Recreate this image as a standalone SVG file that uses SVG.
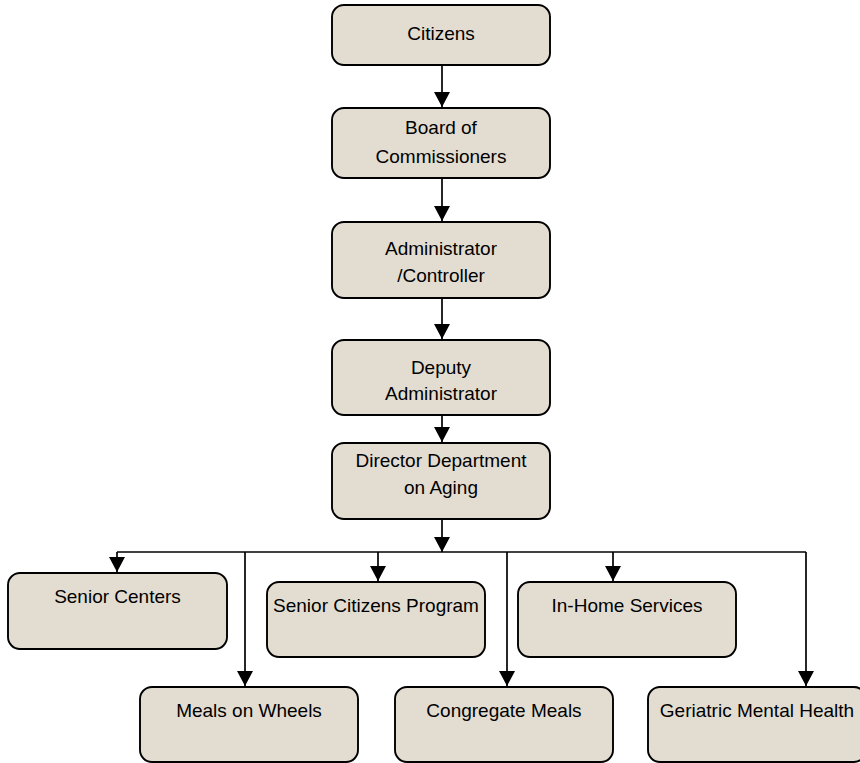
<svg xmlns="http://www.w3.org/2000/svg" width="860" height="763" viewBox="0 0 860 763">
<style>
.box{fill:#e3ddd1;stroke:#000;stroke-width:1.9}
.t{font-family:"Liberation Sans",Arial,sans-serif;font-size:19px;fill:#000;text-anchor:middle}
.c{fill:none;stroke:#000;stroke-width:1.7}
</style>
<defs>
<marker id="ah" markerUnits="userSpaceOnUse" markerWidth="16" markerHeight="16" refX="15" refY="8" orient="auto">
<path d="M0,0 L15,8 L0,16 Z" fill="#000"/>
</marker>
</defs>
<rect width="860" height="763" fill="#fff"/>
<g id="connectors">
<path class="c" d="M442,65 V107" marker-end="url(#ah)"/>
<path class="c" d="M442,178 V221" marker-end="url(#ah)"/>
<path class="c" d="M442,298 V339" marker-end="url(#ah)"/>
<path class="c" d="M442,415 V442" marker-end="url(#ah)"/>
<path class="c" d="M442,519 V552" marker-end="url(#ah)"/>
<path class="c" d="M117,552 H806"/>
<path class="c" d="M117,552 V572" marker-end="url(#ah)"/>
<path class="c" d="M245,552 V686" marker-end="url(#ah)"/>
<path class="c" d="M378,552 V581" marker-end="url(#ah)"/>
<path class="c" d="M507,552 V686" marker-end="url(#ah)"/>
<path class="c" d="M613,552 V581" marker-end="url(#ah)"/>
<path class="c" d="M806,552 V686" marker-end="url(#ah)"/>
</g>
<g id="citizens"><rect class="box" x="332" y="5" width="218" height="60" rx="12"/><text class="t" x="441" y="40">Citizens</text></g>
<g id="board"><rect class="box" x="332" y="108" width="218" height="70" rx="12"/><text class="t" x="441" y="134">Board of</text><text class="t" x="441" y="163">Commissioners</text></g>
<g id="administrator"><rect class="box" x="332" y="222" width="218" height="76" rx="12"/><text class="t" x="441" y="255">Administrator</text><text class="t" x="441" y="282">/Controller</text></g>
<g id="deputy"><rect class="box" x="332" y="340" width="218" height="75" rx="12"/><text class="t" x="441" y="374">Deputy</text><text class="t" x="441" y="400">Administrator</text></g>
<g id="director"><rect class="box" x="332" y="443" width="218" height="76" rx="12"/><text class="t" x="441" y="467">Director Department</text><text class="t" x="441" y="494">on Aging</text></g>
<g id="senior-centers"><rect class="box" x="8" y="573" width="219" height="76" rx="12"/><text class="t" x="117.5" y="603">Senior Centers</text></g>
<g id="senior-citizens-program"><rect class="box" x="267" y="582" width="218" height="75" rx="12"/><text class="t" x="376" y="612">Senior Citizens Program</text></g>
<g id="in-home-services"><rect class="box" x="518" y="582" width="218" height="75" rx="12"/><text class="t" x="627" y="612">In-Home Services</text></g>
<g id="meals-on-wheels"><rect class="box" x="140" y="687" width="218" height="75" rx="12"/><text class="t" x="249" y="717">Meals on Wheels</text></g>
<g id="congregate-meals"><rect class="box" x="395" y="687" width="218" height="75" rx="12"/><text class="t" x="504" y="717">Congregate Meals</text></g>
<g id="geriatric-mental-health"><rect class="box" x="648" y="687" width="218" height="75" rx="12"/><text class="t" x="757" y="717">Geriatric Mental Health</text></g>
</svg>
